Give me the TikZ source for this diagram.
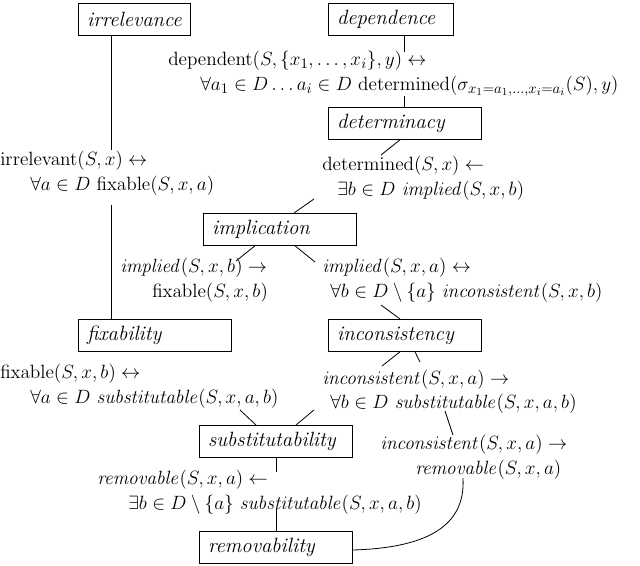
\documentclass[tikz,border=0pt]{standalone}
\usepackage{amsmath,amssymb}
\begin{document}
\begin{tikzpicture}[x=0.75pt,y=-0.75pt,
  box/.style={draw,line width=0.6pt,anchor=north west,minimum height=24pt,inner xsep=6.5pt,inner ysep=0pt,text width=#1,align=left,font=\fontsize{15.5}{17}\selectfont\itshape},
  lbl/.style={anchor=west,inner sep=0pt,font=\fontsize{15.5}{17}\selectfont},
  ln/.style={line width=0.6pt}]
\useasboundingbox (0,0) rectangle (640,565);
\node[box=71pt] (irr) at (78,3) {irrelevance};
\node[box=80.75pt] (dep) at (328,3) {dependence};
\node[box=101.75pt] (det) at (328,107) {determinacy};
\node[box=101.75pt] (imp) at (203,213) {implication};
\node[box=101.75pt] (fix) at (78,319) {fixability};
\node[box=101.75pt] (inc) at (328,319) {inconsistency};
\node[box=101.75pt] (sub) at (199,425) {substitutability};
\node[box=101.75pt] (rem) at (199,531) {removability};
% labels
\node[lbl] (l1a) at (168,61) {$\mathrm{dependent}(S,\{x_1,\ldots,x_i\},y)\leftrightarrow$};
\node[lbl] (l1b) at (200,86) {$\forall a_1\in D\ldots a_i\in D\ \mathrm{determined}(\sigma_{x_1=a_1,\ldots,x_i=a_i}(S),y)$};
\node[lbl] (l2a) at (0,161) {$\mathrm{irrelevant}(S,x)\leftrightarrow$};
\node[lbl] (l2b) at (30,186) {$\forall a\in D\ \mathrm{fixable}(S,x,a)$};
\node[lbl] (l3a) at (322,166) {$\mathrm{determined}(S,x)\leftarrow$};
\node[lbl] (l3b) at (337,191) {$\exists b\in D\ \mathit{implied}(S,x,b)$};
\node[lbl] (l4a) at (120,268) {$\mathit{implied}(S,x,b)\rightarrow$};
\node[lbl] (l4b) at (152,293) {$\mathrm{fixable}(S,x,b)$};
\node[lbl] (l5a) at (322,268) {$\mathit{implied}(S,x,a)\leftrightarrow$};
\node[lbl] (l5b) at (330,293) {$\forall b\in D\setminus\{a\}\ \mathit{inconsistent}(S,x,b)$};
\node[lbl] (l6a) at (0,374) {$\mathrm{fixable}(S,x,b)\leftrightarrow$};
\node[lbl] (l6b) at (30,399) {$\forall a\in D\ \mathit{substitutable}(S,x,a,b)$};
\node[lbl] (l7a) at (322,380) {$\mathit{inconsistent}(S,x,a)\rightarrow$};
\node[lbl] (l7b) at (330,404) {$\forall b\in D\ \mathit{substitutable}(S,x,a,b)$};
\node[lbl] (l8a) at (380,445) {$\mathit{inconsistent}(S,x,a)\rightarrow$};
\node[lbl] (l8b) at (415,470) {$\mathit{removable}(S,x,a)$};
\node[lbl] (l9a) at (97,480) {$\mathit{removable}(S,x,a)\leftarrow$};
\node[lbl] (l9b) at (128,505) {$\exists b\in D\setminus\{a\}\ \mathit{substitutable}(S,x,a,b)$};
% connectors
\coordinate (c1) at (111,150); \coordinate (c2) at (111,205);
\draw[ln] (irr.south -| c1) -- (c1); \draw[ln] (c2) -- (fix.north -| c2);
\coordinate (d1) at (404,52); \coordinate (d2) at (404,96);
\draw[ln] (dep.south -| d1) -- (d1); \draw[ln] (d2) -- (det.north -| d2);
\coordinate (e1) at (381,155); \draw[ln] (det.south -| 400,0) -- (e1);
\coordinate (e2) at (314,199); \draw[ln] (e2) -- (imp.north -| 294,0);
\coordinate (f1) at (236,261); \draw[ln] (imp.south -| 255,0) -- (f1);
\coordinate (g1) at (315,262); \draw[ln] (imp.south -| 295,0) -- (g1);
\coordinate (g2) at (381,305); \draw[ln] (g2) -- (inc.north -| 400,0);
\coordinate (h1) at (382,366); \draw[ln] (inc.south -| 400,0) -- (h1);
\coordinate (h2) at (420,362); \draw[ln] (inc.south -| 415,0) -- (h2);
\coordinate (k1) at (240,410); \draw[ln] (k1) -- (sub.north -| 256,0);
\coordinate (k2) at (314,410); \draw[ln] (k2) -- (sub.north -| 296,0);
\coordinate (m1) at (445,411); \coordinate (m2) at (453,435); \draw[ln] (m1) -- (m2);
\coordinate (n1) at (276,472); \draw[ln] (sub.south -| n1) -- (n1);
\coordinate (n2) at (276,508); \draw[ln] (n2) -- (rem.north -| n2);
\coordinate (p1) at (463,478);
\draw[ln] (p1) .. controls (466,530) and (420,548) .. (rem.east |- 0,550);
\end{tikzpicture}
\end{document}
